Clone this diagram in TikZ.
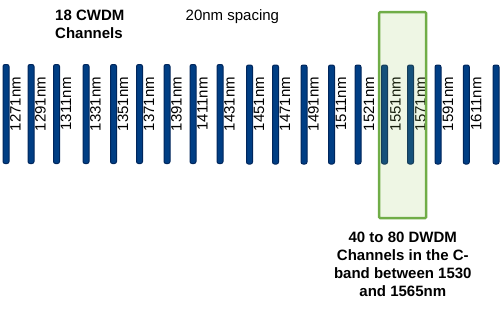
\documentclass[tikz,border=0pt]{standalone}
\usepackage{fontspec}
\setmainfont{Liberation Sans}
\usetikzlibrary{positioning}

\definecolor{cwdmblue}{RGB}{0,62,132}
\definecolor{cwdmedge}{RGB}{0,38,92}
\definecolor{cbandline}{RGB}{112,173,71}
\definecolor{cbandfill}{RGB}{142,195,75}

\begin{document}
\begin{tikzpicture}[
			x=1pt, y=-1pt,
			chbar/.style={rectangle, rounded corners=2pt, minimum width=6pt, minimum height=99pt, inner sep=0pt, draw=cwdmedge, line width=1pt, fill=cwdmblue},
			chlabel/.style={rotate=90, inner sep=0pt, font=\fontsize{15}{18}\selectfont},
			heading/.style={inner sep=0pt, align=left, font=\fontsize{15}{18}\selectfont\bfseries},
			note/.style={inner sep=0pt, font=\fontsize{15}{18}\selectfont},
			cband/.style={rectangle, rounded corners=1pt, minimum width=47pt, minimum height=206pt, draw=cbandline, line width=2.4pt, fill=cbandfill, fill opacity=0.15}
		]
		\useasboundingbox (0,0) rectangle (500,322);

		% --- TESTI IN ALTO ---
		\node (cwdm) [heading, anchor=north west] at (55,9.5) {18 CWDM\\Channels};
		\node (spacing) [note, anchor=base west] at (185.5,20) {20nm spacing};

		% --- CANALI CWDM ---
		\node (b1) [chbar] at (6,114) {};
		\node (b2) [chbar] at (31,114) {};
		\node (b3) [chbar] at (56.5,114) {};
		\node (b4) [chbar] at (86,114) {};
		\node (b5) [chbar] at (113.5,114) {};
		\node (b6) [chbar] at (139.5,114) {};
		\node (b7) [chbar] at (167,114) {};
		\node (b8) [chbar] at (193,114) {};
		\node (b9) [chbar] at (220,114) {};
		\node (b10) [chbar] at (249.5,114.5) {};
		\node (b11) [chbar] at (275.5,114.5) {};
		\node (b12) [chbar] at (304,114.5) {};
		\node (b13) [chbar] at (331.5,114.5) {};
		\node (b14) [chbar] at (358,114.5) {};
		\node (b15) [chbar] at (384.5,114.5) {};
		\node (b16) [chbar] at (410.5,114.5) {};
		\node (b17) [chbar] at (438,114.5) {};
		\node (b18) [chbar] at (466.3,114.5) {};
		\node (b19) [chbar] at (496,114.5) {};

		% Etichette delle lunghezze d'onda
		\node (l1271) [chlabel] at ([xshift=9.5pt,yshift=10pt]b1.center) {1271nm};
		\node (l1291) [chlabel] at ([xshift=9.5pt,yshift=10pt]b2.center) {1291nm};
		\node (l1311) [chlabel] at ([xshift=9.5pt,yshift=10pt]b3.center) {1311nm};
		\node (l1331) [chlabel] at ([xshift=9.5pt,yshift=10pt]b4.center) {1331nm};
		\node (l1351) [chlabel] at ([xshift=9.5pt,yshift=10pt]b5.center) {1351nm};
		\node (l1371) [chlabel] at ([xshift=9.5pt,yshift=10pt]b6.center) {1371nm};
		\node (l1391) [chlabel] at ([xshift=9.5pt,yshift=10pt]b7.center) {1391nm};
		\node (l1411) [chlabel] at ([xshift=9.5pt,yshift=10pt]b8.center) {1411nm};
		\node (l1431) [chlabel] at ([xshift=9.5pt,yshift=10pt]b9.center) {1431nm};
		\node (l1451) [chlabel] at ([xshift=9.5pt,yshift=10.5pt]b10.center) {1451nm};
		\node (l1471) [chlabel] at ([xshift=9.5pt,yshift=10.5pt]b11.center) {1471nm};
		\node (l1491) [chlabel] at ([xshift=9.5pt,yshift=10.5pt]b12.center) {1491nm};
		\node (l1511) [chlabel] at ([xshift=9.5pt,yshift=10.5pt]b13.center) {1511nm};
		\node (l1521) [chlabel] at ([xshift=11pt,yshift=10.5pt]b14.center) {1521nm};
		\node (l1551) [chlabel] at ([xshift=11pt,yshift=10.5pt]b15.center) {1551nm};
		\node (l1571) [chlabel] at ([xshift=10pt,yshift=10.5pt]b16.center) {1571nm};
		\node (l1591) [chlabel] at ([xshift=10pt,yshift=10.5pt]b17.center) {1591nm};
		\node (l1611) [chlabel] at ([xshift=10pt,yshift=10.5pt]b18.center) {1611nm};

		% --- BANDA C (DWDM) ---
		\node (cband) [cband] at (402.6,115.1) {};
		\node (dwdm) [heading, align=center, anchor=north] at (402.8,231.5) {40 to 80 DWDM\\Channels in the C-\\band between 1530\\and 1565nm};
	\end{tikzpicture}
\end{document}
